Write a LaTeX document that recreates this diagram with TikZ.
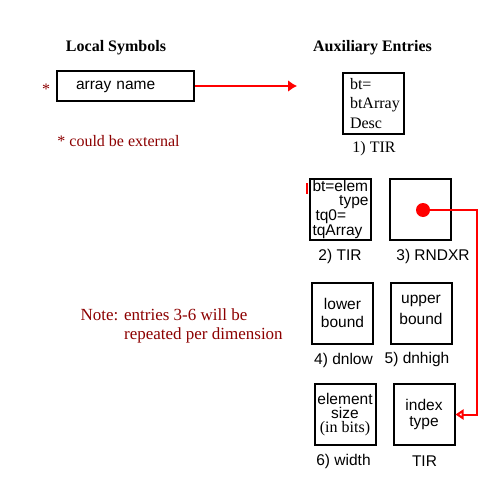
\documentclass[tikz,border=0pt]{standalone}
\usepackage{fontspec}
\setmainfont{Liberation Serif}
\setsansfont{Liberation Sans}
\usetikzlibrary{arrows.meta}
\definecolor{notered}{RGB}{140,0,0}

\begin{document}
\begin{tikzpicture}
        [x=1pt,y=-1pt,
        every node/.style={inner sep=0pt,
          font=\sffamily\fontsize{15.5}{18}\selectfont},
        entry/.style={shape=rectangle,draw,line width=2pt,
          minimum width=61pt,minimum height=61pt,align=center},
        head/.style={font=\rmfamily\bfseries\fontsize{16}{19}\selectfont},
        remark/.style={text=notered,align=left,
          font=\rmfamily\fontsize{16}{19}\selectfont},
        link/.style={draw=red,line width=2pt}]
        \useasboundingbox (0,0) rectangle (500,500);
        %% headings
        \node[head] (loc) at (116,48) {Local Symbols};
        \node[head] (aux) at (372.5,48) {Auxiliary Entries};
        %% local symbol
        \node[entry,minimum width=137pt,minimum height=30pt,align=left,
          text width=99pt,inner xsep=19pt,text height=11pt,text depth=3pt]
          (arr) at (125.5,86) {array name};
        \node[remark] (star) at (46,89) {*};
        \node[remark] (ext) at (118.5,141.5) {* could be external};
        \node[remark,anchor=north west,font=\rmfamily\fontsize{17}{19}\selectfont]
          (note) at (80.5,308.5)
          {Note: entries 3-6 will be\\\phantom{Note: }repeated per dimension};
        %% auxiliary entries
        \node[entry,align=left,text width=47pt,inner xsep=7pt,
          font=\rmfamily\fontsize{16}{19.5}\selectfont]
          (tirA) at (373.5,103.5) {bt=\\btArray\\Desc};
        \node[entry,align=left,text width=56pt,inner xsep=2.5pt,
          font=\sffamily\fontsize{15.5}{13.5}\selectfont]
          (tirB) at (340.5,209.5)
          {bt=elem\\\hspace*{\fill}type\\\hspace*{3pt}tq0=\\tqArray};
        \node[entry] (rnd) at (420.5,209.5) {};
        \node[entry] (low) at (342.5,313) {lower\\bound};
        \node[entry,text depth=7pt,font=\sffamily\fontsize{15.5}{21}\selectfont]
          (high) at (421,313) {upper\\bound};
        \node[entry,font=\sffamily\fontsize{15.5}{14}\selectfont]
          (wid) at (345,414.5)
          {element\\size\\{\rmfamily\fontsize{16}{14}\selectfont (in bits)}};
        \node[entry,font=\sffamily\fontsize{15.5}{15.7}\selectfont]
          (idx) at (424,414.5) {index\\type};
        %% captions
        \node[font=\rmfamily\fontsize{16}{19}\selectfont] (capA) at (374,149) {1) TIR};
        \node (capB) at (340,256) {2) TIR};
        \node (capC) at (433,256) {3) RNDXR};
        \node (capD) at (343.5,360) {4) dnlow};
        \node (capE) at (417,359) {5) dnhigh};
        \node (capF) at (343.5,461) {6) width};
        \node (capG) at (424.5,461) {TIR};
        %% links
        \coordinate (tip) at (297,86);
        \coordinate (turn) at (477,210);
        \coordinate (nick) at (307,183);
        \draw[link,-{Latex[length=9pt,width=12pt]}] (arr.east) -- (tip);
        \draw[link,-{Triangle[open,length=8pt,width=10pt]}]
          (423,210) -- (turn) |- (idx.east);
        \node[circle,fill=red,minimum size=14pt] (dot) at (423,210) {};
        \draw[red,line width=1.5pt] (nick) -- ++(0,11);
\end{tikzpicture}
\end{document}
